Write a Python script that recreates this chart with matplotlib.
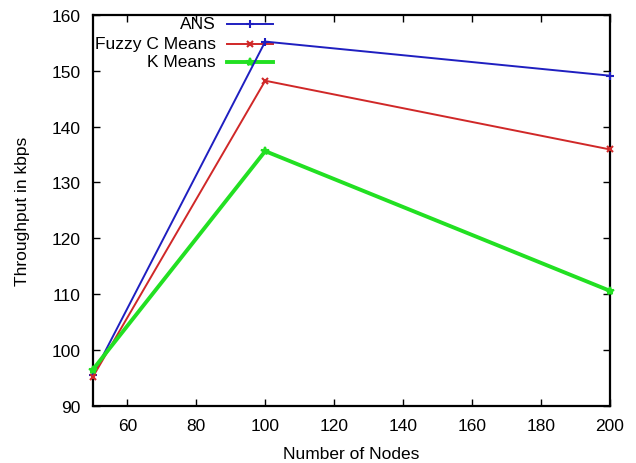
import matplotlib; matplotlib.use("Agg")
import matplotlib.pyplot as plt
from matplotlib.lines import Line2D

plt.rcParams.update({"font.family": ["Liberation Sans", "DejaVu Sans"], "font.size": 12.5})

nodes = [50, 100, 200]
ans = [95.5, 155.2, 149.1]
fuzzy = [95.2, 148.2, 135.9]
kmeans = [96.5, 135.6, 110.6]
names = ["ANS", "Fuzzy C Means", "K Means"]
BLUE = "#1f1fc0"; RED = "#d02828"; GREEN = "#22e022"

fig = plt.figure(figsize=(6.36, 4.64), dpi=100)
ax = fig.add_axes([0.146, 0.123, 0.813, 0.843])

styles = [(ans, BLUE, "+", 1.4, 6), (fuzzy, RED, "x", 1.4, 5), (kmeans, GREEN, "*", 2.8, 6)]
for (vals, col, mk, lw, ms) in styles:
    ax.plot(nodes, vals, color=col, lw=lw, marker=mk, ms=ms, mew=1.5, clip_on=False, zorder=3)

ax.set_xlim(50, 200); ax.set_ylim(90, 160)
ax.set_xticks(range(60, 201, 20)); ax.set_yticks(range(90, 161, 10))
ax.tick_params(direction="in", top=True, right=True, length=5, width=1, labelsize=12.5, pad=9)
for s in ax.spines.values():
    s.set_linewidth(1.6)
ax.set_xlabel("Number of Nodes", labelpad=9)
ax.set_ylabel("Throughput in kbps", labelpad=15)

# gnuplot-style key: text right-aligned, sample to the right
rows = [0.977, 0.926, 0.880]
for (vals, col, mk, lw, ms), name, y in zip(styles, names, rows):
    ax.text(0.238, y, name, transform=ax.transAxes, ha="right", va="center", fontsize=12.5)
    ax.add_line(Line2D([0.259, 0.348], [y, y], transform=ax.transAxes, color=col, lw=lw))
    ax.add_line(Line2D([0.3035], [y], transform=ax.transAxes, color=col, marker=mk, ms=ms, mew=1.5))

fig.savefig("out.png", dpi=100)
